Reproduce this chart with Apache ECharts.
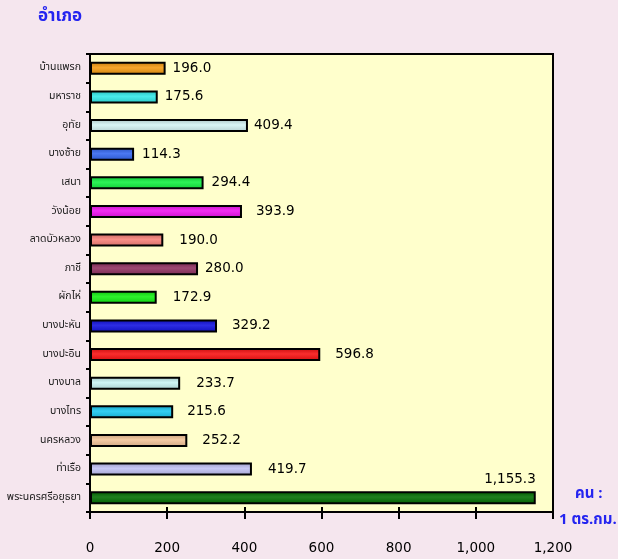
<!DOCTYPE html>
<html><head><meta charset="utf-8">
<script src="https://cdn.jsdelivr.net/npm/echarts@6/dist/echarts.min.js"></script>
<style>html,body{margin:0;padding:0;background:#F5E6EE;}#c{width:618px;height:559px;}</style>
</head><body><div id="c"></div>
<script>
const categories = ['บ้านแพรก','มหาราช','อุทัย','บางซ้าย','เสนา','วังน้อย','ลาดบัวหลวง','ภาชี','ผักไห่','บางปะหัน','บางปะอิน','บางบาล','บางไทร','นครหลวง','ท่าเรือ','พระนครศรีอยุธยา'];
const values = [196.0,175.6,409.4,114.3,294.4,393.9,190.0,280.0,172.9,329.2,596.8,233.7,215.6,252.2,419.7,1155.3];
const xTicks = [0,200,400,600,800,1000,1200];
const barColors = ['#F59A10','#30E8E8','#D4F4F4','#3366F0','#10F040','#F010F0','#F88078','#903060','#10F010','#1010E0','#F81010','#C8F4F4','#18C8F0','#F4C498','#C0C0F4','#006E00'];
const labelGap = [7,7,6,8,8,14,16,7,16,15,15,16,14,15,16,0];

function shade(hex, f){
  const n=parseInt(hex.slice(1),16);let r=n>>16,g=(n>>8)&255,b=n&255;
  const m=v=>Math.max(0,Math.min(255,Math.round(f<1?v*f:v+(255-v)*(f-1))));
  return 'rgb('+m(r)+','+m(g)+','+m(b)+')';
}
const font = '"DejaVu Sans", Verdana, sans-serif';
const thaiFont = '"Noto Sans Thai","Noto Sans","DejaVu Sans",sans-serif';
const last = values.length-1;
const data = values.map((v,i)=>{
  const c = barColors[i];
  const item = {value:v, itemStyle:{color:{type:'linear',x:0,y:0,x2:0,y2:1,colorStops:[
    {offset:0,color:shade(c,0.8)},{offset:0.45,color:shade(c,1.12)},{offset:1,color:shade(c,0.85)}]}},
    label:{distance:labelGap[i]}};
  if(i===last){
    item.label={position:['100%','0%'],align:'right',verticalAlign:'bottom',offset:[0,-5]};
  }
  return item;
});
const chart = echarts.init(document.getElementById('c'));
chart.setOption({
  backgroundColor:'#F5E6EE',
  animation:false,
  grid:{left:90,right:65,top:54,bottom:47,show:true,backgroundColor:'#FFFFCC',borderColor:'#000',borderWidth:2,containLabel:false},
  xAxis:[{type:'value',min:0,max:1200,interval:200,
    axisLine:{show:true,lineStyle:{color:'#000',width:2}},
    axisTick:{show:true,length:7,lineStyle:{color:'#000',width:2}},
    axisLabel:{margin:29,color:'#000',fontSize:13.5,fontFamily:font,formatter:v=>v.toLocaleString('en-US')},
    splitLine:{show:false}},
    {type:'value',min:0,max:1200,interval:200,position:'bottom',offset:0,
    axisLine:{show:false},axisTick:{show:true,inside:true,length:5,lineStyle:{color:'#000',width:2}},
    axisLabel:{show:false},splitLine:{show:false}}],
  yAxis:{type:'category',inverse:true,data:categories,
    axisLine:{show:true,lineStyle:{color:'#000',width:2}},
    axisTick:{show:true,length:4,lineStyle:{color:'#000',width:2}},
    axisLabel:{margin:9,color:'#1a1a1a',fontSize:10.5,fontFamily:thaiFont}},
  series:[{type:'bar',data:data,barWidth:13,xAxisIndex:0,
    itemStyle:{borderColor:'#000',borderWidth:2},
    label:{show:true,position:'right',color:'#000',fontSize:13.5,fontFamily:font,
      formatter:p=>p.value.toLocaleString('en-US',{minimumFractionDigits:1,maximumFractionDigits:1})}}],
  graphic:[
    {type:'text',left:38,top:9,style:{text:'อำเภอ',fill:'#2424F0',font:'bold 17px '+thaiFont}},
    {type:'text',left:575,top:487,style:{text:'คน :',fill:'#2424F0',font:'bold 15px '+thaiFont}},
    {type:'text',left:559,top:513,style:{text:'1 ตร.กม.',fill:'#2424F0',font:'bold 15px '+thaiFont}}
  ]
});
</script></body></html>
